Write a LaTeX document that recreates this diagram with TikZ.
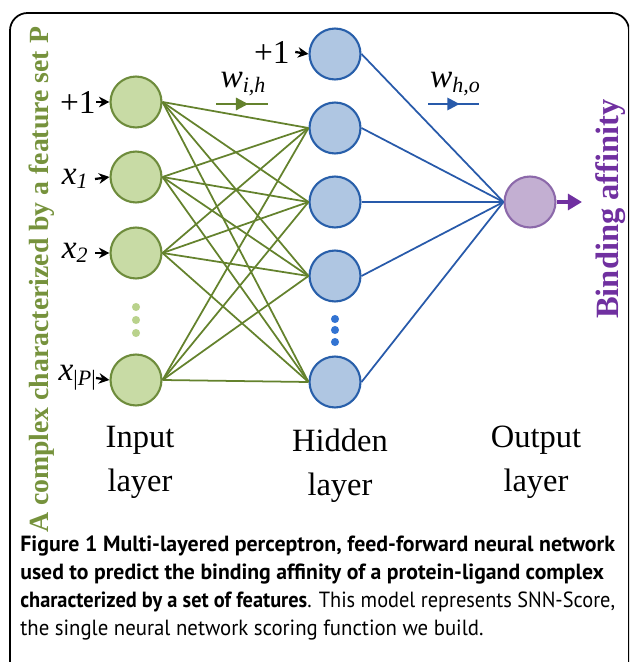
\documentclass[tikz,border=0pt]{standalone}
\usepackage{fontspec}
\setmainfont{Liberation Serif}
\newfontfamily\capfont{PT Sans}
\usetikzlibrary{arrows.meta,decorations.markings}
\definecolor{gfill}{RGB}{200,219,165}
\definecolor{gdraw}{RGB}{110,140,60}
\definecolor{gline}{RGB}{100,130,45}
\definecolor{gdot}{RGB}{185,210,140}
\definecolor{bfill}{RGB}{175,198,226}
\definecolor{bdraw}{RGB}{40,95,170}
\definecolor{bline}{RGB}{40,90,170}
\definecolor{bdot}{RGB}{50,115,210}
\definecolor{pfill}{RGB}{195,175,210}
\definecolor{pdraw}{RGB}{140,105,170}
\definecolor{ptext}{RGB}{112,48,160}
\definecolor{gtext}{RGB}{118,146,60}
\newcommand{\subit}[2]{\textit{#1}\raisebox{-0.3ex}{\fontsize{12.5}{12.5}\selectfont #2}}
\tikzset{
  inneuron/.style={circle,draw=gdraw,fill=gfill,line width=1.2pt,minimum size=29pt,inner sep=0pt},
  hidneuron/.style={circle,draw=bdraw,fill=bfill,line width=1.2pt,minimum size=29pt,inner sep=0pt},
  outneuron/.style={circle,draw=pdraw,fill=pfill,line width=1.2pt,minimum size=29pt,inner sep=0pt},
  glink/.style={draw=gline,line width=1pt},
  blink/.style={draw=bline,line width=1pt},
  inarrow/.style={-{Stealth[length=6pt,width=6pt]},line width=1.3pt,black},
  lbl/.style={inner sep=0pt,font=\fontsize{19}{21}\selectfont},
  laylbl/.style={align=center,font=\fontsize{18.5}{25}\selectfont,inner sep=0pt},
  gdotst/.style={circle,fill=gdot,inner sep=0pt,minimum size=4.6pt},
  bdotst/.style={circle,fill=bdot,inner sep=0pt,minimum size=4.6pt},
  wline/.style={line width=1.3pt,postaction={decorate},decoration={markings,mark=at position 0.62 with {\arrow{Triangle[length=7pt,width=7pt]}}}},
  capline/.style={anchor=base west,inner sep=0pt,font=\capfont\fontsize{12.5}{14}\selectfont}
}
\begin{document}
\begin{tikzpicture}[x=0.02cm,y=-0.02cm]
\useasboundingbox (0,0) rectangle (629,662);
\begin{scope}
\clip (0,0) rectangle (629,662);
\draw[line width=1pt,rounded corners=10] (10,680) -- (10,13) -- (629,13) -- (629,680);
\end{scope}
% input neurons
\node[inneuron] (i0) at (136,102) {};
\node[inneuron] (i1) at (136,177) {};
\node[inneuron] (i2) at (136,253) {};
\node[inneuron] (i3) at (136,380) {};
\node[gdotst] (gd1) at (136,307) {};
\node[gdotst] (gd2) at (136,320) {};
\node[gdotst] (gd3) at (136,333) {};
% hidden neurons
\node[hidneuron] (h0) at (335,54) {};
\node[hidneuron] (h1) at (335,128) {};
\node[hidneuron] (h2) at (335,202) {};
\node[hidneuron] (h3) at (335,276) {};
\node[hidneuron] (h4) at (335,382) {};
\node[bdotst] (bd1) at (335,319) {};
\node[bdotst] (bd2) at (335,330) {};
\node[bdotst] (bd3) at (335,342) {};
% output
\node[outneuron] (o) at (530,202) {};
% links
\foreach \a in {0,1,2,3}{
  \foreach \b in {1,2,3,4}{
    \draw[glink] (i\a.east) -- (h\b.west);
  }
}
\foreach \b in {0,1,2,3,4}{
  \draw[blink] (h\b.east) -- (o.west);
}
% output arrow
\coordinate (oend) at (582,202);
\draw[-{Triangle[length=8pt,width=9pt]},line width=2.4pt,ptext] (o.east) -- (oend);
% input labels
\node[lbl,anchor=east] (l0) at (96,102) {+1};
\node[lbl,anchor=east] (l1) at (88,179) {\subit{x}{\textit{1}}};
\node[lbl,anchor=east] (l2) at (88,253) {\subit{x}{\textit{2}}};
\node[lbl,anchor=east] (l3) at (96,378) {\subit{x}{|\textit{P}|}};
\draw[inarrow] (l0.east) -- (i0.west);
\draw[inarrow] ([xshift=4pt]l1.east) -- (i1.west);
\draw[inarrow] ([xshift=4pt]l2.east) -- (i2.west);
\draw[inarrow] (l3.east) -- (i3.west);
\node[lbl,anchor=east] (hl0) at (290,52) {+1};
\draw[inarrow] ([xshift=3pt]hl0.east) -- (h0.west);
% weights
\node[lbl] (wih) at (243,84) {\subit{w}{\textit{i,h}}};
\coordinate (wih1) at (216,104);
\coordinate (wih2) at (268,104);
\draw[wline,gline] (wih1) -- (wih2);
\node[lbl] (who) at (455,84) {\subit{w}{\textit{h,o}}};
\coordinate (who1) at (428,104);
\coordinate (who2) at (479,104);
\draw[wline,bline] (who1) -- (who2);
% layer labels
\node[laylbl] (il) at (140,462) {Input\\layer};
\node[laylbl] (hl) at (340,466) {Hidden\\layer};
\node[laylbl] (ol) at (536,462) {Output\\layer};
% side labels
\node[rotate=90,text=gtext,inner sep=0pt,font=\bfseries\fontsize{15.8}{16}\selectfont] (side) at (42,280) {A complex characterized by a feature set P};
\node[rotate=90,text=ptext,inner sep=0pt,font=\bfseries\fontsize{18.5}{20}\selectfont] (bind) at (611,209) {Binding affinity};
% caption
\node[capline] (c1) at (20,551) {\resizebox{338.5pt}{\height}{\bfseries Figure 1 Multi-layered perceptron, feed-forward neural network}};
\node[capline] (c2) at (20,579) {\resizebox{332.2pt}{\height}{\bfseries used to predict the binding affinity of a protein-ligand complex}};
\node[capline] (c3) at (20,607) {\resizebox{338.5pt}{\height}{\textbf{characterized by a set of features}. This model represents SNN-Score,}};
\node[capline] (c4) at (20,635) {\resizebox{263.6pt}{\height}{the single neural network scoring function we build.}};
\end{tikzpicture}
\end{document}
